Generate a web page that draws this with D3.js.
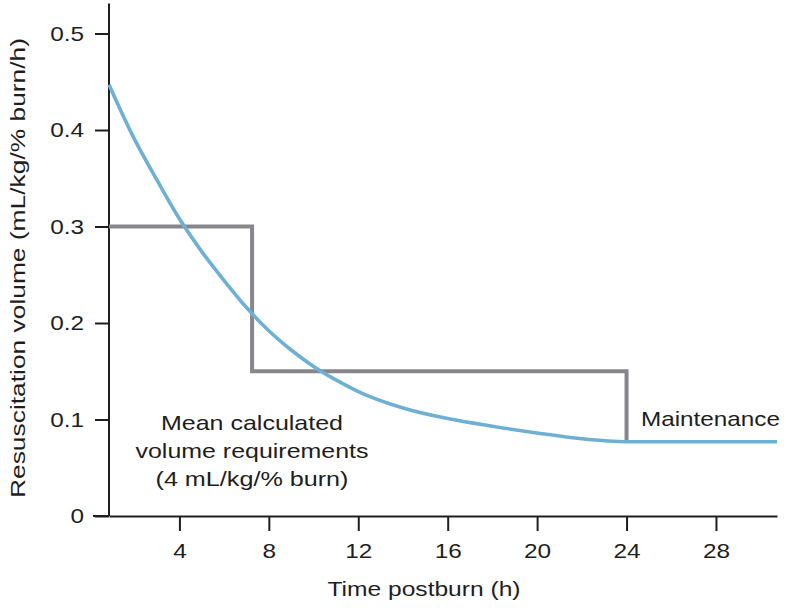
<!DOCTYPE html>
<html>
<head>
<meta charset="utf-8">
<script src="https://cdn.jsdelivr.net/npm/d3@7"></script>
<style>
  html, body { margin: 0; padding: 0; background: #fff; }
  svg { display: block; }
  text { font-family: 'Liberation Sans', Arial, Helvetica, sans-serif; fill: #1e1e1e; }
</style>
</head>
<body>
<svg id="chart" width="787" height="610"></svg>
<script>
// ---- data ----
const curveHours  = [0.85, 2, 3, 4, 5, 6, 7, 8, 9, 10, 11, 12, 14, 16, 18, 20, 22, 24, 30.73];
const curveValues = [0.447, 0.390, 0.348, 0.308, 0.274, 0.244, 0.216, 0.192, 0.172, 0.155, 0.141, 0.129, 0.112, 0.101, 0.093, 0.086, 0.080, 0.077, 0.077];

const stepHours  = [0.85, 7.25, 24];
const stepValues = [0.30, 0.15, 0.077];

const xTicks = [4, 8, 12, 16, 20, 24, 28];
const yTicks = [0, 0.1, 0.2, 0.3, 0.4, 0.5];
const yTickLabels = ["0", "0.1", "0.2", "0.3", "0.4", "0.5"];

const xTitle = "Time postburn (h)";
const yTitle = "Resuscitation volume (mL/kg/% burn/h)";
const noteLines = ["Mean calculated", "volume requirements", "(4 mL/kg/% burn)"];
const maintLabel = "Maintenance";

// ---- layout ----
const svg = d3.select("#chart");
svg.append("rect").attr("width", 787).attr("height", 610).attr("fill", "#fff");

const x = d3.scaleLinear().domain([0.85, 30.73]).range([109, 777]);
const y = d3.scaleLinear().domain([0, 0.5]).range([516, 33.5]);
const yAxisTop = 0.531;

function stretchTo(node, target) {
  const w = node.getComputedTextLength();
  node.setAttribute("textLength", target);
  node.setAttribute("lengthAdjust", "spacingAndGlyphs");
}
function stretchBy(sel, k) {
  sel.each(function () {
    const w = this.getComputedTextLength();
    this.setAttribute("textLength", w * k);
    this.setAttribute("lengthAdjust", "spacingAndGlyphs");
  });
}

// ---- axes ----
const xAxis = svg.append("g")
  .attr("transform", `translate(0,${y(0)})`)
  .call(d3.axisBottom(x).tickValues(xTicks).tickSize(15).tickPadding(12).tickSizeOuter(0));
xAxis.select(".domain").attr("stroke", "#1e1e1e").attr("stroke-width", 2);
xAxis.selectAll(".tick line").attr("stroke", "#1e1e1e").attr("stroke-width", 2);
xAxis.selectAll(".tick text").attr("font-size", 21).attr("fill", "#1e1e1e")
  .style("font-family", "'Liberation Sans', Arial, sans-serif");
stretchBy(xAxis.selectAll(".tick text"), 1.16);

const yAxis = svg.append("g")
  .attr("transform", `translate(${x(0.85)},0)`)
  .call(d3.axisLeft(y).tickValues(yTicks).tickFormat((d, i) => yTickLabels[i])
        .tickSize(14).tickPadding(11).tickSizeOuter(0));
yAxis.select(".domain").remove();
yAxis.append("line")
  .attr("x1", 0).attr("x2", 0)
  .attr("y1", y(0)).attr("y2", y(yAxisTop))
  .attr("stroke", "#1e1e1e").attr("stroke-width", 2);
yAxis.selectAll(".tick line").attr("stroke", "#1e1e1e").attr("stroke-width", 2);
yAxis.selectAll(".tick text").attr("font-size", 21).attr("fill", "#1e1e1e")
  .style("font-family", "'Liberation Sans', Arial, sans-serif");
stretchBy(yAxis.selectAll(".tick text"), 1.16);

// x-axis extends left to meet the zero tick
svg.append("line")
  .attr("x1", x(0.85) - 16).attr("x2", x(0.85))
  .attr("y1", y(0)).attr("y2", y(0))
  .attr("stroke", "#1e1e1e").attr("stroke-width", 2);

// ---- axis titles ----
const xt = svg.append("text")
  .attr("x", 424).attr("y", 596)
  .attr("text-anchor", "middle").attr("font-size", 21)
  .text(xTitle);
stretchTo(xt.node(), 193);

const yt = svg.append("text")
  .attr("transform", "translate(25,268) rotate(-90)")
  .attr("text-anchor", "middle").attr("font-size", 21)
  .text(yTitle);
stretchTo(yt.node(), 460);

// ---- step line (gray) ----
const stepData = stepHours.map((h, i) => ({ h, v: stepValues[i] }));
svg.append("path")
  .datum(stepData)
  .attr("fill", "none")
  .attr("stroke", "#87878b")
  .attr("stroke-width", 4)
  .attr("stroke-linejoin", "miter")
  .attr("d", d3.line().x(d => x(d.h)).y(d => y(d.v)).curve(d3.curveStepAfter));

// ---- curve (blue) ----
const curveData = curveHours.map((h, i) => ({ h, v: curveValues[i] }));
svg.append("path")
  .datum(curveData)
  .attr("fill", "none")
  .attr("stroke", "#6db0d4")
  .attr("stroke-width", 3.6)
  .attr("d", d3.line().x(d => x(d.h)).y(d => y(d.v)).curve(d3.curveMonotoneX));

// ---- annotations ----
const noteWidths = [182, 233, 193];
const noteBaselines = [430, 458, 486];
noteLines.forEach((t, i) => {
  const n = svg.append("text")
    .attr("x", 252).attr("y", noteBaselines[i])
    .attr("text-anchor", "middle").attr("font-size", 21)
    .text(t);
  stretchTo(n.node(), noteWidths[i]);
});

const m = svg.append("text")
  .attr("x", 641).attr("y", 426)
  .attr("font-size", 21)
  .text(maintLabel);
stretchTo(m.node(), 139);
</script>
</body>
</html>
